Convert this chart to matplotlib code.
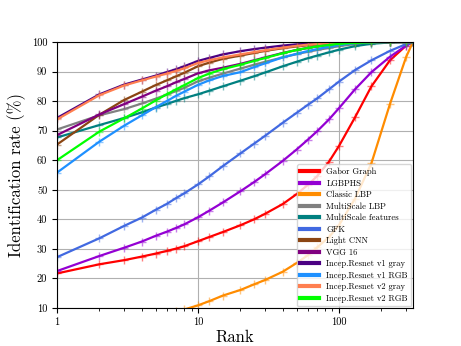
import matplotlib
matplotlib.use("Agg")
import matplotlib.pyplot as plt
from matplotlib.colors import to_rgba
from matplotlib.ticker import FixedLocator, FixedFormatter, NullFormatter

plt.rcParams['font.family'] = 'serif'
plt.rcParams['font.serif'] = ['cmr10']
plt.rcParams['mathtext.fontset'] = 'cm'
plt.rcParams['axes.unicode_minus'] = False

ranks = [1, 2, 3, 4, 5, 6, 7, 8, 10, 12, 15, 20, 25, 30, 40, 50, 60, 70, 85, 100, 130, 170, 230, 300, 335]

gabor = [21.7, 24.8, 26.2, 27.4, 28.4, 29.3, 30.1, 30.9, 32.6, 34.0, 35.7, 38.0, 40.0, 41.9, 45.2, 48.5, 51.6, 54.6, 59.5, 64.8, 74.5, 85.0, 93.8, 98.8, 100.0]
lgbphs = [22.5, 27.6, 30.4, 32.5, 34.4, 35.8, 37.1, 38.3, 40.7, 42.9, 45.7, 49.5, 52.6, 55.3, 59.8, 63.6, 66.9, 69.8, 73.8, 77.6, 84.0, 89.8, 95.0, 98.8, 100.0]
classic_lbp = [4.0, 5.5, 6.5, 7.2, 7.8, 8.4, 8.9, 9.5, 10.9, 12.3, 14.2, 16.1, 18.0, 19.5, 22.3, 25.2, 27.8, 30.5, 34.0, 38.0, 47.0, 59.0, 79.0, 95.0, 100.0]
multiscale_lbp = [70.4, 75.2, 77.3, 79.2, 80.8, 82.2, 83.4, 84.5, 86.7, 87.9, 89.3, 91.0, 92.3, 93.3, 94.8, 95.9, 96.7, 97.3, 98.0, 98.6, 99.3, 99.7, 99.95, 100.0, 100.0]
multiscale_feat = [67.7, 71.9, 74.3, 76.2, 77.8, 79.0, 80.1, 81.0, 82.3, 83.5, 85.0, 86.9, 88.4, 89.7, 91.8, 93.3, 94.5, 95.4, 96.5, 97.4, 98.6, 99.4, 99.85, 100.0, 100.0]
gfk = [27.2, 33.6, 37.8, 40.6, 43.2, 45.2, 47.2, 48.8, 51.8, 54.5, 58.0, 62.3, 65.6, 68.3, 72.7, 76.0, 78.7, 80.9, 84.0, 86.6, 90.5, 93.8, 97.0, 99.3, 100.0]
light_cnn = [65.3, 75.4, 80.4, 83.2, 85.4, 87.0, 88.4, 89.6, 91.8, 93.0, 94.3, 95.4, 96.3, 97.0, 97.9, 98.5, 98.9, 99.2, 99.5, 99.7, 99.85, 99.95, 100.0, 100.0, 100.0]
vgg16 = [68.5, 75.5, 79.0, 81.5, 83.5, 85.0, 86.4, 87.5, 89.4, 90.4, 91.3, 92.6, 93.8, 94.8, 96.3, 97.3, 98.0, 98.5, 99.0, 99.4, 99.7, 99.85, 99.95, 100.0, 100.0]
inc_v1_gray = [74.3, 82.3, 85.6, 87.3, 88.6, 89.8, 90.8, 91.8, 93.6, 94.6, 95.8, 96.9, 97.6, 98.1, 98.8, 99.2, 99.4, 99.6, 99.8, 99.9, 100.0, 100.0, 100.0, 100.0, 100.0]
inc_v1_rgb = [55.8, 66.3, 71.7, 75.2, 77.9, 80.0, 81.8, 83.2, 85.5, 87.0, 88.5, 89.8, 91.5, 92.8, 94.8, 96.0, 96.9, 97.6, 98.4, 99.0, 99.6, 99.85, 100.0, 100.0, 100.0]
inc_v2_gray = [73.8, 82.0, 85.3, 87.0, 88.3, 89.3, 90.2, 91.1, 92.9, 93.8, 94.8, 95.8, 96.6, 97.2, 98.1, 98.7, 99.1, 99.3, 99.6, 99.75, 99.9, 100.0, 100.0, 100.0, 100.0]
inc_v2_rgb = [60.0, 69.7, 74.2, 77.5, 80.2, 82.3, 84.0, 85.4, 87.8, 89.3, 90.8, 92.3, 93.6, 94.6, 96.2, 97.3, 98.0, 98.5, 99.0, 99.4, 99.7, 99.9, 100.0, 100.0, 100.0]

series = [
    ("Gabor Graph", gabor, "red"),
    ("LGBPHS", lgbphs, "darkviolet"),
    ("Classic LBP", classic_lbp, "darkorange"),
    ("MultiScale LBP", multiscale_lbp, "gray"),
    ("MultiScale features", multiscale_feat, "teal"),
    ("GFK", gfk, "royalblue"),
    ("Light CNN", light_cnn, "saddlebrown"),
    ("VGG 16", vgg16, "purple"),
    ("Incep.Resnet v1 gray", inc_v1_gray, "indigo"),
    ("Incep.Resnet v1 RGB", inc_v1_rgb, "dodgerblue"),
    ("Incep.Resnet v2 gray", inc_v2_gray, "coral"),
    ("Incep.Resnet v2 RGB", inc_v2_rgb, "lime"),
]

x_ticks = [1, 10, 100]
x_tick_labels = ["1", "10", "100"]
y_ticks = [10, 20, 30, 40, 50, 60, 70, 80, 90, 100]


def main():
    fig = plt.figure(figsize=(4.61, 3.46), dpi=100)
    ax = fig.add_axes([0.1236, 0.1098, 0.7722, 0.7688])

    for name, vals, col in series:
        ax.plot(ranks, vals, color=col, lw=1.6, label=name,
                marker='+', markersize=6, markeredgewidth=1,
                markeredgecolor=to_rgba(col, 0.5))

    ax.set_xscale('log')
    ax.set_xlim(1, 335)
    ax.set_ylim(10, 100)
    ax.xaxis.set_major_locator(FixedLocator(x_ticks))
    ax.xaxis.set_major_formatter(FixedFormatter(x_tick_labels))
    ax.xaxis.set_minor_formatter(NullFormatter())
    ax.set_yticks(y_ticks)
    ax.tick_params(labelsize=7.5)
    ax.grid(True, which='major', color='#b0b0b0', lw=0.8)

    ax.set_xlabel("Rank", fontsize=12, labelpad=2)
    ax.set_ylabel("Identification rate (%)", fontsize=12, labelpad=4)

    leg = ax.legend(loc='lower right', fontsize=6.2, labelspacing=0.36,
                    handlelength=2.2, borderaxespad=0.2)
    for line in leg.get_lines():
        line.set_linewidth(3)
        line.set_marker('')

    fig.savefig("out.png", dpi=100)


if __name__ == "__main__":
    main()
